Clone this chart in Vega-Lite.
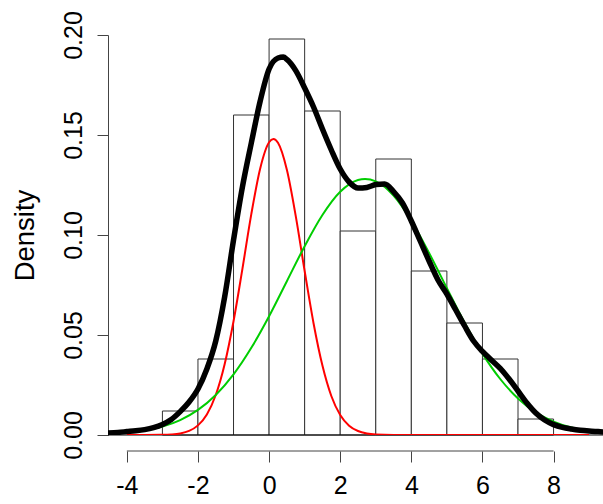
{
  "$schema": "https://vega.github.io/schema/vega-lite/v6.json",
  "width": 495,
  "height": 400,
  "autosize": {"type": "none"},
  "padding": {"left": 108, "top": 35, "right": 0, "bottom": 69},
  "background": "white",
  "config": {
    "view": {"stroke": null},
    "font": "Liberation Sans",
    "axis": {"grid": false}
  },
  "datasets": {
    "hist": [
      {"lo": -3, "hi": -2, "density": 0.012},
      {"lo": -2, "hi": -1, "density": 0.038},
      {"lo": -1, "hi": 0, "density": 0.160},
      {"lo": 0, "hi": 1, "density": 0.198},
      {"lo": 1, "hi": 2, "density": 0.162},
      {"lo": 2, "hi": 3, "density": 0.102},
      {"lo": 3, "hi": 4, "density": 0.138},
      {"lo": 4, "hi": 5, "density": 0.082},
      {"lo": 5, "hi": 6, "density": 0.056},
      {"lo": 6, "hi": 7, "density": 0.038},
      {"lo": 7, "hi": 8, "density": 0.008}
    ],
    "red": [
      {"x": -4, "y": 0.0},
      {"x": -3.5, "y": 0.00002},
      {"x": -3, "y": 0.00009},
      {"x": -2.75, "y": 0.00028},
      {"x": -2.5, "y": 0.00079},
      {"x": -2.25, "y": 0.00205},
      {"x": -2, "y": 0.00482},
      {"x": -1.75, "y": 0.0103},
      {"x": -1.5, "y": 0.0200},
      {"x": -1.25, "y": 0.0354},
      {"x": -1, "y": 0.0569},
      {"x": -0.75, "y": 0.0831},
      {"x": -0.5, "y": 0.1104},
      {"x": -0.25, "y": 0.1333},
      {"x": 0, "y": 0.1464},
      {"x": 0.12, "y": 0.148},
      {"x": 0.25, "y": 0.1461},
      {"x": 0.5, "y": 0.1326},
      {"x": 0.75, "y": 0.1094},
      {"x": 1, "y": 0.0820},
      {"x": 1.25, "y": 0.0559},
      {"x": 1.5, "y": 0.0347},
      {"x": 1.75, "y": 0.0195},
      {"x": 2, "y": 0.0100},
      {"x": 2.25, "y": 0.00466},
      {"x": 2.5, "y": 0.00198},
      {"x": 2.75, "y": 0.00076},
      {"x": 3, "y": 0.00027},
      {"x": 3.5, "y": 0.00002},
      {"x": 4, "y": 0.0},
      {"x": 5, "y": 0.0},
      {"x": 6, "y": 0.0},
      {"x": 7, "y": 0.0},
      {"x": 8, "y": 0.0},
      {"x": 9, "y": 0.0}
    ],
    "green": [
      {"x": -4, "y": 0.00114},
      {"x": -3.5, "y": 0.00224},
      {"x": -3, "y": 0.00419},
      {"x": -2.5, "y": 0.00744},
      {"x": -2, "y": 0.01253},
      {"x": -1.5, "y": 0.0200},
      {"x": -1, "y": 0.0303},
      {"x": -0.5, "y": 0.0436},
      {"x": 0, "y": 0.0594},
      {"x": 0.5, "y": 0.0769},
      {"x": 1, "y": 0.0944},
      {"x": 1.5, "y": 0.1100},
      {"x": 2, "y": 0.1216},
      {"x": 2.5, "y": 0.1275},
      {"x": 2.7, "y": 0.128},
      {"x": 3, "y": 0.1268},
      {"x": 3.5, "y": 0.1197},
      {"x": 4, "y": 0.1071},
      {"x": 4.5, "y": 0.0910},
      {"x": 5, "y": 0.0734},
      {"x": 5.5, "y": 0.0561},
      {"x": 6, "y": 0.0407},
      {"x": 6.5, "y": 0.0280},
      {"x": 7, "y": 0.0183},
      {"x": 7.5, "y": 0.0113},
      {"x": 8, "y": 0.00667},
      {"x": 8.5, "y": 0.00372},
      {"x": 9, "y": 0.00197}
    ],
    "kde": [
      {"x": -4.53, "y": 0.0010},
      {"x": -4.25, "y": 0.0013},
      {"x": -4.0, "y": 0.0017},
      {"x": -3.75, "y": 0.0021},
      {"x": -3.5, "y": 0.0027},
      {"x": -3.25, "y": 0.0037},
      {"x": -3.0, "y": 0.0053},
      {"x": -2.75, "y": 0.0078},
      {"x": -2.5, "y": 0.0117},
      {"x": -2.25, "y": 0.0165},
      {"x": -2.0, "y": 0.0230},
      {"x": -1.75, "y": 0.0330},
      {"x": -1.5, "y": 0.0470},
      {"x": -1.25, "y": 0.0690},
      {"x": -1.0, "y": 0.0975},
      {"x": -0.75, "y": 0.1240},
      {"x": -0.5, "y": 0.1460},
      {"x": -0.25, "y": 0.1670},
      {"x": 0.0, "y": 0.1830},
      {"x": 0.25, "y": 0.1885},
      {"x": 0.4, "y": 0.1890},
      {"x": 0.5, "y": 0.1878},
      {"x": 0.75, "y": 0.1822},
      {"x": 1.0, "y": 0.1735},
      {"x": 1.25, "y": 0.1640},
      {"x": 1.5, "y": 0.1530},
      {"x": 1.75, "y": 0.1425},
      {"x": 2.0, "y": 0.1330},
      {"x": 2.25, "y": 0.1265},
      {"x": 2.5, "y": 0.1235},
      {"x": 2.75, "y": 0.1238},
      {"x": 3.0, "y": 0.1252},
      {"x": 3.25, "y": 0.1255},
      {"x": 3.5, "y": 0.1217},
      {"x": 3.75, "y": 0.1160},
      {"x": 4.0, "y": 0.1070},
      {"x": 4.25, "y": 0.0970},
      {"x": 4.5, "y": 0.0870},
      {"x": 4.75, "y": 0.0775},
      {"x": 5.0, "y": 0.0705},
      {"x": 5.25, "y": 0.0625},
      {"x": 5.5, "y": 0.0545},
      {"x": 5.75, "y": 0.0470},
      {"x": 6.0, "y": 0.0418},
      {"x": 6.25, "y": 0.0375},
      {"x": 6.5, "y": 0.0333},
      {"x": 6.75, "y": 0.0280},
      {"x": 7.0, "y": 0.0220},
      {"x": 7.25, "y": 0.0160},
      {"x": 7.5, "y": 0.0110},
      {"x": 7.75, "y": 0.0075},
      {"x": 8.0, "y": 0.0052},
      {"x": 8.25, "y": 0.0038},
      {"x": 8.5, "y": 0.0030},
      {"x": 8.75, "y": 0.0024},
      {"x": 9.0, "y": 0.0020},
      {"x": 9.25, "y": 0.0017},
      {"x": 9.5, "y": 0.0014}
    ],
    "xaxisline": [{"from": -4, "to": 8}]
  },
  "resolve": {"scale": {"x": "shared", "y": "shared"}},
  "layer": [
    {
      "data": {"name": "hist"},
      "mark": {"type": "rect", "fill": "white", "stroke": "#333333", "strokeWidth": 1},
      "encoding": {
        "x": {
          "field": "lo", "type": "quantitative",
          "scale": {"domain": [-4.53, 9.39], "nice": false, "zero": false},
          "axis": {
            "values": [-4, -2, 0, 2, 4, 6, 8],
            "labelExpr": "datum.value < 0 ? '-' + abs(datum.value) : '' + datum.value",
            "title": null,
            "domain": false,
            "offset": 16,
            "tickSize": 11,
            "tickColor": "#444444",
            "labelFontSize": 25,
            "labelColor": "black",
            "labelBaseline": "alphabetic",
            "labelPadding": 31,
            "labelFlush": false,
            "labelOverlap": false
          }
        },
        "x2": {"field": "hi"},
        "y": {
          "field": "density", "type": "quantitative",
          "scale": {"domain": [0, 0.2], "nice": false},
          "axis": {
            "values": [0, 0.05, 0.1, 0.15, 0.2],
            "format": ".2f",
            "title": "Density",
            "titleFontSize": 27.5,
            "titleFontWeight": "normal",
            "titleColor": "black",
            "titleAngle": -90,
            "titleAlign": "center",
            "titleBaseline": "alphabetic",
            "titleX": -75,
            "titleY": 200,
            "domainColor": "#444444",
            "tickColor": "#444444",
            "tickSize": 11,
            "labelAngle": -90,
            "labelAlign": "center",
            "labelBaseline": "alphabetic",
            "labelPadding": 16,
            "labelFontSize": 25,
            "labelColor": "black",
            "labelFlush": false,
            "labelOverlap": false
          }
        },
        "y2": {"datum": 0}
      }
    },
    {
      "data": {"name": "xaxisline"},
      "mark": {"type": "rule", "color": "#444444", "strokeWidth": 1, "clip": false},
      "encoding": {
        "x": {"field": "from", "type": "quantitative"},
        "x2": {"field": "to"},
        "y": {"datum": -0.008}
      }
    },
    {
      "data": {"name": "xaxisline"},
      "mark": {"type": "rule", "color": "black", "strokeWidth": 1},
      "encoding": {
        "y": {"datum": 0}
      }
    },
    {
      "data": {"name": "red"},
      "mark": {"type": "line", "color": "#FF0000", "strokeWidth": 2, "interpolate": "monotone", "clip": true},
      "encoding": {
        "x": {"field": "x", "type": "quantitative"},
        "y": {"field": "y", "type": "quantitative"}
      }
    },
    {
      "data": {"name": "green"},
      "mark": {"type": "line", "color": "#00CD00", "strokeWidth": 2, "interpolate": "monotone", "clip": true},
      "encoding": {
        "x": {"field": "x", "type": "quantitative"},
        "y": {"field": "y", "type": "quantitative"}
      }
    },
    {
      "data": {"name": "kde"},
      "mark": {"type": "line", "color": "black", "strokeWidth": 5.5, "strokeJoin": "round", "strokeCap": "round", "interpolate": "monotone", "clip": true},
      "encoding": {
        "x": {"field": "x", "type": "quantitative"},
        "y": {"field": "y", "type": "quantitative"}
      }
    }
  ]
}
